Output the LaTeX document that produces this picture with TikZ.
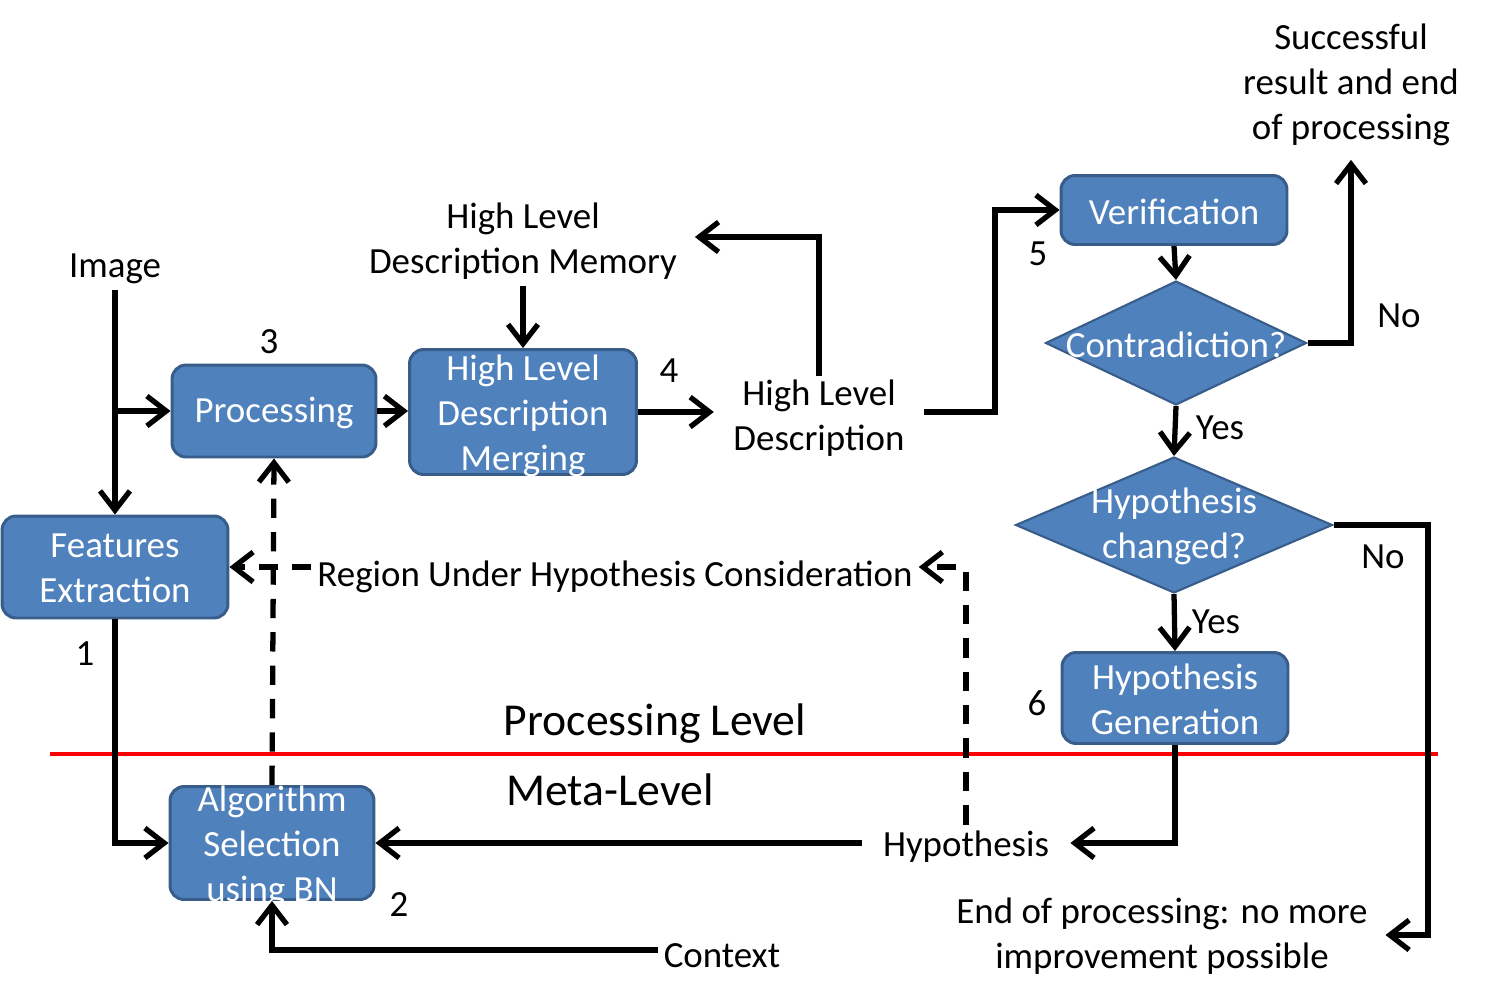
\documentclass[tikz,border=0pt]{standalone}
\usepackage{fontspec}
\setmainfont{Carlito}
\usetikzlibrary{arrows.meta,shapes.geometric}
\definecolor{boxfill}{HTML}{4F81BD}
\definecolor{boxline}{HTML}{385D8A}
\begin{document}
\begin{tikzpicture}[x=0.02cm,y=-0.02cm,
  font=\fontsize{21}{25.6}\selectfont,
  box/.style={draw=boxline,fill=boxfill,line width=1.7pt,rounded corners=8pt,inner sep=0pt},
  dia/.style={diamond,draw=boxline,fill=boxfill,line width=1.2pt,inner sep=0pt},
  wt/.style={text=white,align=center,yshift=-1pt},
  lbl/.style={align=center,yshift=-2pt},
  num/.style={yshift=-2pt},
  arr/.style={line width=3pt,-{Straight Barb[length=11pt,width=17pt]}},
  dsh/.style={dash pattern=on 11pt off 8pt},
  big/.style={font=\fontsize{26}{31}\selectfont}
]
\useasboundingbox (0,0) rectangle (1493,1001);

% boxes
\node[box,minimum width=4.08cm,minimum height=1.84cm,label={[wt]center:Processing}] (proc) at (274,411) {};
\node[box,minimum width=4.54cm,minimum height=2.5cm,label={[wt,yshift=-1pt]center:{High Level\\Description\\Merging}}] (merg) at (523,412) {};
\node[box,minimum width=4.52cm,minimum height=1.38cm,label={[wt]center:Verification}] (ver) at (1174,210) {};
\node[box,minimum width=4.52cm,minimum height=1.82cm,label={[wt]center:{Hypothesis\\Generation}}] (hg) at (1175,698) {};
\node[box,minimum width=4.52cm,minimum height=2.04cm,label={[wt]center:{Features\\Extraction}}] (fe) at (115,567) {};
\node[box,minimum width=4.08cm,minimum height=2.26cm,label={[wt,yshift=-1pt]center:{Algorithm\\Selection\\using BN}}] (as) at (272,843) {};

% diamonds
\node[dia,minimum width=5.22cm,minimum height=2.48cm,label={[wt]center:Contradiction?}] (con) at (1176,343) {};
\node[dia,minimum width=6.34cm,minimum height=2.72cm,label={[wt]center:{Hypothesis\\changed?}}] (hyd) at (1174,525) {};

% texts
\node[lbl] (img) at (115,265) {Image};
\node[lbl,inner xsep=10pt] (hldm) at (523,238) {High Level\\Description Memory};
\node[lbl,inner xsep=11pt,inner ysep=2pt] (hld) at (819,415) {High Level\\Description};
\node[lbl,inner ysep=8pt] (succ) at (1351,81) {Successful\\result and end\\of processing};
\node[lbl] (region) at (615,573) {Region Under Hypothesis Consideration};
\node[lbl,inner xsep=12pt] (hyp) at (966,843) {Hypothesis};
\node[lbl] (ctx) at (722,952) {Context};
\node[lbl,inner xsep=10pt] (endp) at (1162,933) {End of processing: no more\\improvement possible};
\node[big,yshift=-2pt] (pl) at (655,720) {Processing Level};
\node[big] (ml) at (610,790) {Meta-Level};

\node[num] (n1) at (85,650) {1};
\node[num] (n2) at (399,901) {2};
\node[num] (n3) at (269,338) {3};
\node[num] (n4) at (669,367) {4};
\node[num] (n5) at (1038,250) {5};
\node[num] (n6) at (1037,700) {6};
\node[num] (yes1) at (1220,424) {Yes};
\node[num] (no1) at (1399,312) {No};
\node[num] (no2) at (1383,553) {No};
\node[num] (yes2) at (1216,618) {Yes};

% helper coordinates
\coordinate (br1) at (115,411);
\coordinate (k1) at (995,412);
\coordinate (k2) at (1428,935);
\coordinate (k3) at (966,567);
\coordinate (kh) at (966,843);
\coordinate (kc) at (722,950);
\coordinate (km) at (523,237);
\coordinate (r1) at (50,754);
\coordinate (r2) at (1438,754);

% red separator
\draw[red,line width=2.3pt] (r1) -- (r2);

% connectors
\draw[arr] (img.south) -- (fe.north);
\draw[arr] (br1) -- (proc.west);
\draw[arr] (proc.east) -- (proc.east -| merg.west);
\draw[arr] (hldm.south) -- (merg.north);
\draw[arr] (merg.east) -- (hld.west |- merg.east);
\draw[arr] (hld.north) |- (hldm.east |- km);
\draw[arr] (hld.east |- k1) -- (k1) |- (ver.west);
\draw[arr] (ver.south) -- (con.north);
\draw[arr] (con.east) -| (succ.south);
\draw[arr] (con.south) -- (hyd.north);
\draw[arr] (hyd.east) -| (k2) -- (endp.east |- k2);
\draw[arr] (hyd.south) -- (hg.north);
\draw[arr] (hg.south) |- (hyp.east |- kh);
\draw[arr] (hyp.west |- kh) -- (as.east |- kh);
\draw[arr,dsh] (hyp.north) -- (k3) -- (k3 -| region.east);
\draw[arr,dsh] (region.west |- fe.east) -- (fe.east);
\draw[arr,dsh] (as.north) -- (proc.south);
\draw[arr] (fe.south) |- (as.west);
\draw[arr] (ctx.west |- kc) -| (as.south);
\end{tikzpicture}
\end{document}
